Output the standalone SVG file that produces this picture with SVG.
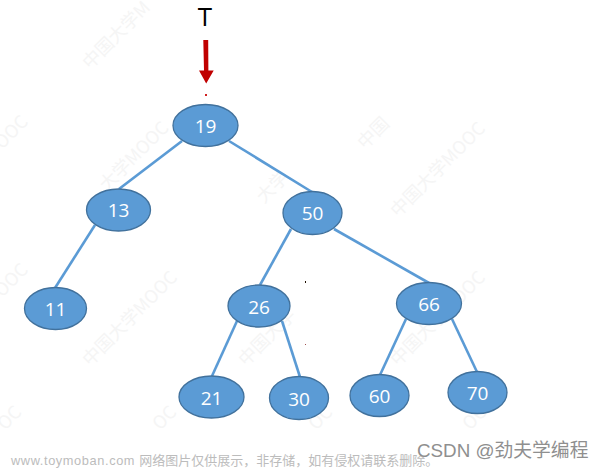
<svg xmlns="http://www.w3.org/2000/svg" width="604" height="469" viewBox="0 0 604 469">
<style>
.n{fill:#5b9bd5;stroke:#41719c;stroke-width:1.3}
.l{font-family:"Open Sans","Liberation Sans",sans-serif;font-size:19px;fill:#fff;text-anchor:middle}
.e{stroke:#5b9bd5;stroke-width:2.6;fill:none}
.w{font-family:"Noto Sans CJK SC","Liberation Sans",sans-serif;font-size:18px;fill:#f5f5f5}
</style>
<rect width="604" height="469" fill="#fff"/>
<g id="watermarks">
<text class="w" transform="translate(90 70) rotate(-45)">中国大学M</text>
<text class="w" transform="translate(107 192) rotate(-45)">大学MOOC</text>
<text class="w" transform="translate(2 150) rotate(-45)">OOC</text>
<text class="w" transform="translate(2 298) rotate(-45)">OOC</text>
<text class="w" transform="translate(90 367) rotate(-45)">中国大学MOOC</text>
<text class="w" transform="translate(246 367) rotate(-45)">中国大学</text>
<text class="w" transform="translate(264 204) rotate(-45)">大学</text>
<text class="w" transform="translate(365 150) rotate(-45)">中国</text>
<text class="w" transform="translate(398 218) rotate(-45)">中国大学MOOC</text>
<text class="w" transform="translate(398 367) rotate(-45)">中国大学MOOC</text>
<text class="w" transform="translate(5 431) rotate(-45)">OC</text>
<text class="w" transform="translate(160 431) rotate(-45)">OC</text>
<text class="w" transform="translate(316 431) rotate(-45)">OC</text>
<text class="w" transform="translate(470 431) rotate(-45)">OC</text>
</g>
<g id="connectors">
<line class="e" x1="182" y1="141" x2="119" y2="189"/>
<line class="e" x1="229" y1="141" x2="312" y2="192"/>
<line class="e" x1="95" y1="225" x2="55" y2="288"/>
<line class="e" x1="291" y1="229" x2="260" y2="285"/>
<line class="e" x1="334" y1="229" x2="429" y2="283"/>
<line class="e" x1="237" y1="321" x2="212" y2="376"/>
<line class="e" x1="282" y1="321" x2="300" y2="377"/>
<line class="e" x1="406" y1="319" x2="380" y2="375"/>
<line class="e" x1="452" y1="319" x2="477" y2="372"/>
<path id="pointer" d="M203.300 40H208.200L208.400 70.500H213.700L206.200 83.500L199 70.500H204Z" fill="#c00000"/>
</g>
<g id="T"><text x="205" y="26" font-family="Open Sans,Liberation Sans,sans-serif" font-size="26" text-anchor="middle" fill="#000">T</text></g>
<g id="n19"><ellipse class="n" cx="205.500" cy="125.500" rx="32.500" ry="21"/><text class="l" x="205.500" y="133">19</text></g>
<g id="n13"><ellipse class="n" cx="118.500" cy="210" rx="32" ry="21"/><text class="l" x="118.500" y="217">13</text></g>
<g id="n50"><ellipse class="n" cx="312.500" cy="213" rx="29.500" ry="21.500"/><text class="l" x="312.500" y="220">50</text></g>
<g id="n11"><ellipse class="n" cx="55.500" cy="308.500" rx="31" ry="21"/><text class="l" x="55.500" y="315.500">11</text></g>
<g id="n26"><ellipse class="n" cx="259" cy="306" rx="31" ry="21"/><text class="l" x="259" y="313.500">26</text></g>
<g id="n66"><ellipse class="n" cx="429" cy="303.500" rx="32.500" ry="21"/><text class="l" x="429" y="310.500">66</text></g>
<g id="n21"><ellipse class="n" cx="211.500" cy="397" rx="32.500" ry="21"/><text class="l" x="211.500" y="404.500">21</text></g>
<g id="n30"><ellipse class="n" cx="299" cy="398" rx="29.500" ry="21.500"/><text class="l" x="299" y="405.500">30</text></g>
<g id="n60"><ellipse class="n" cx="379.500" cy="395.500" rx="29.500" ry="21"/><text class="l" x="379.500" y="402.500">60</text></g>
<g id="n70"><ellipse class="n" cx="477.500" cy="392.500" rx="29.500" ry="21"/><text class="l" x="477.500" y="399.500">70</text></g>
<rect x="205" y="94" width="2" height="2" fill="#d02020"/>
<rect x="305" y="281" width="1" height="2" fill="#201000"/>
<rect x="305" y="344" width="1" height="1" fill="#a05050"/>
<text x="11" y="465" font-family="Liberation Sans,Noto Sans CJK SC,sans-serif" font-size="12.800" letter-spacing=".6" fill="#bcbcbc">www.toymoban.com <tspan font-family="Noto Sans CJK SC,sans-serif" letter-spacing="0" font-size="13">网络图片仅供展示，非存储，如有侵权请联系删除。</tspan></text>
<text x="417" y="457" font-family="Liberation Sans,Noto Sans CJK SC,sans-serif" font-size="18.800" fill="#8f8f8f">CSDN @<tspan font-family="Noto Sans CJK SC,sans-serif">劲夫学编程</tspan></text>
</svg>
